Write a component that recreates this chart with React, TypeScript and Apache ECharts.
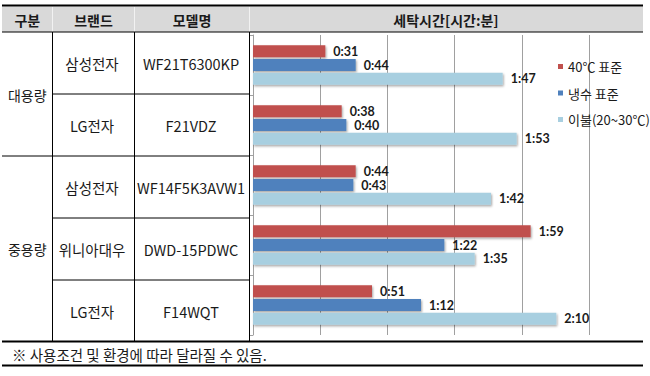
import React, { useEffect, useRef } from "react";
import * as echarts from "echarts";

// ---- data ----
const groups = ["대용량", "중용량"];
const brands = ["삼성전자", "LG전자", "삼성전자", "위니아대우", "LG전자"];
const models = ["WF21T6300KP", "F21VDZ", "WF14F5K3AVW1", "DWD-15PDWC", "F14WQT"];
const seriesNames = ["40℃ 표준", "냉수 표준", "이불(20~30℃)"];
const warm40 = ["0:31", "0:38", "0:44", "1:59", "0:51"];
const coldStd = ["0:44", "0:40", "0:43", "1:22", "1:12"];
const blanket = ["1:47", "1:53", "1:42", "1:35", "2:10"];
const headers = ["구분", "브랜드", "모델명", "세탁시간[시간:분]"];
const footnote = "※ 사용조건 및 환경에 따라 달라질 수 있음.";

const toMin = (s: string) => {
  const [h, m] = s.split(":").map(Number);
  return h * 60 + m;
};
const fmt = (v: number) => `${Math.floor(v / 60)}:${String(v % 60).padStart(2, "0")}`;

const colors = ["#c0504d", "#4f81bd", "#a8cfe0"];
const KR = "'Noto Sans CJK KR', sans-serif";

export default function App() {
  const ref = useRef<HTMLDivElement>(null);
  useEffect(() => {
    if (!ref.current) return;
    const chart = echarts.init(ref.current, undefined, { renderer: "svg" });

    const L = 2, R = 643;
    const c1 = 52.5, c2 = 134.5, c3 = 249.5;
    const headTop = 6.5, headBot = 32, tableBot = 341.5, footBot = 365.5;
    const rowLines = [94, 156, 218, 280];
    const rowMid = [63, 125, 187, 249, 311];

    const line = (x1: number, y1: number, x2: number, y2: number, w: number, c = "#000") => ({
      type: "line",
      shape: { x1, y1, x2, y2 },
      style: { stroke: c, lineWidth: w },
      silent: true,
    });
    const text = (t: string, x: number, y: number, size: number, weight: any = "normal", align = "center") => ({
      type: "text",
      x,
      y,
      style: {
        text: t,
        align,
        verticalAlign: "middle",
        fontSize: size,
        fontFamily: KR,
        fontWeight: weight,
        fill: "#1a1a1a",
      },
      silent: true,
    });

    const graphics: any[] = [
      { type: "rect", shape: { x: L, y: headTop, width: R - L, height: headBot - headTop }, style: { fill: "#d9d9d9" }, silent: true },
      line(c1, headTop, c1, headBot, 1, "#f2f2f2"),
      line(c2, headTop, c2, headBot, 1, "#f2f2f2"),
      line(c3, headTop, c3, headBot, 1, "#f2f2f2"),
      line(L, 5.5, R, 5.5, 2),
      line(L, headBot, R, headBot, 1),
      line(c1, headBot, c1, tableBot, 1),
      line(c2, headBot, c2, tableBot, 1),
      line(c3, headBot, c3, tableBot, 1),
      line(c1, rowLines[0], c3, rowLines[0], 1),
      line(L, rowLines[1], c3, rowLines[1], 1),
      line(c1, rowLines[2], c3, rowLines[2], 1),
      line(c1, rowLines[3], c3, rowLines[3], 1),
      line(L, tableBot, R, tableBot, 2),
      line(L, footBot, R, footBot, 2),
      text(headers[0], (L + c1) / 2, 19.5, 14, "bold"),
      text(headers[1], (c1 + c2) / 2, 19.5, 14, "bold"),
      text(headers[2], (c2 + c3) / 2, 19.5, 14, "bold"),
      text(headers[3], 446, 19.5, 14, "bold"),
      text(groups[0], (L + c1) / 2, 95, 14),
      text(groups[1], (L + c1) / 2, 249, 14),
      text(footnote, 12, 354, 14.5, "normal", "left"),
    ];
    brands.forEach((b, i) => graphics.push(text(b, 92, rowMid[i], 14.5)));
    models.forEach((m, i) => graphics.push(text(m, 191, rowMid[i], 14.5)));

    const makeSeries = (name: string, vals: string[], color: string) => ({
      name,
      type: "bar",
      data: vals.map(toMin),
      barWidth: 12,
      barGap: "14%",
      itemStyle: {
        color,
        shadowColor: "rgba(0,0,0,0.35)",
        shadowBlur: 2,
        shadowOffsetX: 1,
        shadowOffsetY: 1.5,
      },
      label: {
        show: true,
        position: "right",
        distance: 8,
        formatter: (p: any) => fmt(p.value),
        fontFamily: "Lato, sans-serif",
        fontWeight: "bold",
        fontSize: 12.5,
        lineHeight: 12,
        color: "#1a1a1a",
      },
    });

    chart.setOption({
      animation: false,
      backgroundColor: "#ffffff",
      grid: { left: 253, top: 35, width: 336, height: 300, containLabel: false },
      legend: {
        data: seriesNames,
        orient: "vertical",
        left: 553,
        top: 54,
        icon: "rect",
        itemWidth: 5,
        itemHeight: 5,
        itemGap: 11.5,
        textStyle: { fontSize: 13, fontFamily: KR, color: "#1a1a1a", lineHeight: 15 },
      },
      xAxis: {
        type: "value",
        min: 0,
        max: 144,
        interval: 28.8,
        axisLabel: { show: false },
        axisLine: { show: false },
        axisTick: { show: false },
        splitLine: { show: true, lineStyle: { color: "#a0a0a0", width: 1 } },
      },
      yAxis: {
        type: "category",
        inverse: true,
        data: models,
        axisLabel: { show: false },
        axisLine: { show: true, lineStyle: { color: "#a0a0a0", width: 1 } },
        axisTick: { show: true, length: 3, lineStyle: { color: "#a0a0a0" } },
      },
      series: [
        makeSeries(seriesNames[0], warm40, colors[0]),
        makeSeries(seriesNames[1], coldStd, colors[1]),
        makeSeries(seriesNames[2], blanket, colors[2]),
      ],
      graphic: graphics,
    });
    return () => chart.dispose();
  }, []);

  return (
    <div
      ref={ref}
      style={{ position: "fixed", left: 0, top: 0, width: 650, height: 376, background: "#fff" }}
    />
  );
}
